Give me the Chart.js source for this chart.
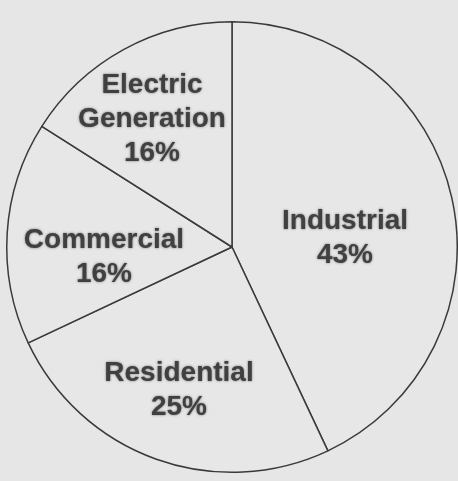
<!DOCTYPE html>
<html>
<head>
    <title>Natural Gas Consumption by Sector</title>
    <script src="https://cdn.jsdelivr.net/npm/chart.js@4"></script>
    <style>
        html, body { margin: 0; padding: 0; background-color: #e6e6e6; }
        .chart-container { width: 458px; height: 481px; position: relative; }
    </style>
</head>
<body>
    <div class="chart-container">
        <canvas id="pieChart"></canvas>
    </div>

    <script>
        const categories = ['Industrial', 'Residential', 'Commercial', 'Electric Generation'];
        const shares = [43, 25, 16, 16];
        // how each category name is split into lines inside its slice
        const labelLines = [['Industrial'], ['Residential'], ['Commercial'], ['Electric', 'Generation']];
        // label block offset from the pie centre, in px
        const labelOffsets = [[113, -9], [-53, 143], [-128, 10], [-80, -128]];

        const sliceLabels = {
            id: 'sliceLabels',
            afterDatasetsDraw(chart) {
                const ctx = chart.ctx;
                const arcs = chart.getDatasetMeta(0).data;
                ctx.save();
                ctx.font = 'bold 28px "Liberation Sans", Arial, sans-serif';
                ctx.textAlign = 'center';
                ctx.textBaseline = 'middle';
                ctx.fillStyle = '#404040';
                ctx.shadowColor = 'rgba(0,0,0,0.5)';
                ctx.shadowBlur = 2.5;
                arcs.forEach((arc, i) => {
                    const lines = labelLines[i].concat([shares[i] + '%']);
                    const lh = 34;
                    const cx = arc.x + labelOffsets[i][0];
                    const top = arc.y + labelOffsets[i][1] - (lines.length - 1) * lh / 2;
                    lines.forEach((t, j) => ctx.fillText(t, cx, top + j * lh));
                });
                ctx.restore();
            }
        };

        new Chart(document.getElementById('pieChart').getContext('2d'), {
            type: 'pie',
            data: {
                labels: categories,
                datasets: [{
                    data: shares,
                    backgroundColor: '#e7e7e7',
                    borderColor: '#3a3a3a',
                    borderWidth: 1.5
                }]
            },
            options: {
                responsive: true,
                maintainAspectRatio: false,
                animation: false,
                rotation: 0,
                layout: { padding: { left: 6, right: 0, top: 21, bottom: 8 } },
                plugins: {
                    legend: { display: false },
                    tooltip: { enabled: false }
                }
            },
            plugins: [sliceLabels]
        });
    </script>
</body>
</html>
